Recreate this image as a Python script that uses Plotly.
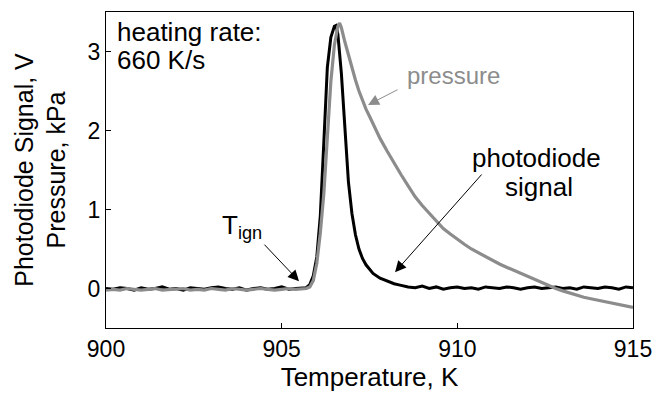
import plotly.graph_objects as go

# ---------------- data ----------------
pd_temp = [900.0, 900.2, 900.4, 900.6, 900.8, 901.0, 901.2, 901.4, 901.6, 901.8,
           902.0, 902.2, 902.4, 902.6, 902.8, 903.0, 903.2, 903.4, 903.6, 903.8,
           904.0, 904.2, 904.4, 904.6, 904.8, 905.0, 905.2, 905.4, 905.6,
           905.7, 905.8, 905.9, 906.0, 906.1, 906.2, 906.3, 906.4, 906.5, 906.55,
           906.6, 906.7, 906.8, 906.9, 907.0, 907.1, 907.2, 907.3, 907.4, 907.5,
           907.6, 907.8, 908.0, 908.2, 908.4, 908.6,
           908.8, 909.0, 909.2, 909.4, 909.6, 909.8, 910.0, 910.2, 910.4, 910.6,
           910.8, 911.0, 911.2, 911.4, 911.6, 911.8, 912.0, 912.2, 912.4, 912.6,
           912.8, 913.0, 913.2, 913.4, 913.6, 913.8, 914.0, 914.2, 914.4, 914.6,
           914.8, 915.0]
pd_signal = [0.00, -0.01, 0.01, 0.00, -0.02, 0.01, -0.01, 0.00, 0.02, -0.01,
             0.00, -0.02, 0.01, 0.00, -0.01, 0.01, 0.02, 0.00, -0.01, 0.01,
             -0.02, 0.00, 0.01, -0.01, 0.00, 0.02, -0.01, 0.00, 0.01,
             0.01, 0.05, 0.16, 0.40, 0.92, 1.85, 2.80, 3.18, 3.32, 3.33,
             3.22, 2.72, 2.00, 1.35, 0.95, 0.68, 0.50, 0.38, 0.30, 0.24,
             0.19, 0.13, 0.09, 0.06, 0.04, 0.02,
             0.01, 0.03, 0.00, 0.02, -0.01, 0.01, 0.02, 0.00, 0.01, -0.01,
             0.02, 0.01, 0.00, 0.02, 0.01, -0.01, 0.01, 0.02, 0.00, 0.01,
             0.02, 0.00, 0.01, -0.01, 0.02, 0.01, 0.00, 0.02, 0.01, -0.01,
             0.02, 0.01]

pr_temp = [900.0, 900.2, 900.4, 900.6, 900.8, 901.0, 901.2, 901.4, 901.6, 901.8,
           902.0, 902.2, 902.4, 902.6, 902.8, 903.0, 903.2, 903.4, 903.6, 903.8,
           904.0, 904.2, 904.4, 904.6, 904.8, 905.0, 905.2, 905.4, 905.6,
           905.7, 905.8, 905.9, 906.0, 906.1, 906.2, 906.3, 906.4, 906.5, 906.6,
           906.65, 906.7, 906.8, 906.9, 907.0, 907.1, 907.2, 907.3, 907.4, 907.5,
           907.6, 907.8, 908.0, 908.2, 908.4, 908.6, 908.8, 909.0, 909.2, 909.4,
           909.6, 909.8, 910.0, 910.2, 910.4, 910.6, 910.8, 911.0, 911.2, 911.4,
           911.6, 911.8, 912.0, 912.2, 912.4, 912.6, 912.8, 913.0, 913.2, 913.4,
           913.6, 913.8, 914.0, 914.2, 914.4, 914.6, 914.8, 915.0]
pr_pressure = [-0.02, -0.01, -0.02, 0.00, -0.01, -0.02, -0.01, 0.00, -0.02, -0.01,
               -0.01, 0.00, -0.02, -0.01, -0.02, 0.00, -0.01, -0.02, 0.00, -0.01,
               -0.02, -0.01, 0.00, -0.01, -0.02, -0.01, 0.00, -0.01, -0.01,
               0.00, 0.02, 0.10, 0.32, 0.70, 1.20, 1.90, 2.62, 3.08, 3.32,
               3.36, 3.30, 3.12, 2.95, 2.80, 2.64, 2.50, 2.38, 2.27, 2.18,
               2.08, 1.90, 1.74, 1.58, 1.44, 1.30, 1.16, 1.05, 0.95, 0.85,
               0.76, 0.69, 0.62, 0.56, 0.50, 0.45, 0.40, 0.35, 0.31, 0.27,
               0.23, 0.19, 0.15, 0.11, 0.07, 0.03, 0.00, -0.03, -0.06, -0.08,
               -0.11, -0.13, -0.15, -0.17, -0.19, -0.21, -0.23, -0.24]

x_ticks = [900, 905, 910, 915]
y_ticks = [0, 1, 2, 3]

FONT = "Arial, Liberation Sans, sans-serif"
GRAY = "#8c8c8c"

fig = go.Figure()
fig.add_trace(go.Scatter(x=pd_temp, y=pd_signal, mode="lines",
                         line=dict(color="black", width=3), showlegend=False))
fig.add_trace(go.Scatter(x=pr_temp, y=pr_pressure, mode="lines",
                         line=dict(color=GRAY, width=3.2), showlegend=False))

ann = []
def text(t, x, y, color="black", size=26, xanchor="center"):
    ann.append(dict(text=t, x=x, y=y, xref="x", yref="y", showarrow=False,
                    xanchor=xanchor, yanchor="middle",
                    font=dict(family=FONT, size=size, color=color)))

def arrow(x, y, ax, ay, color="black"):
    ann.append(dict(text="", x=x, y=y, ax=ax, ay=ay, xref="x", yref="y",
                    axref="x", ayref="y", showarrow=True, arrowhead=2,
                    arrowsize=2.2, arrowwidth=1, arrowcolor=color,
                    standoff=0, startstandoff=0))

text("heating rate:", 900.26, 3.25, xanchor="left")
text("660 K/s", 900.26, 2.89, xanchor="left")
text("pressure", 909.9, 2.70, color=GRAY, size=24)
text("photodiode", 912.24, 1.65)
text("signal", 912.33, 1.29)
text("T<sub>ign</sub>", 903.87, 0.78)
arrow(907.458, 2.324, 908.34, 2.526, color=GRAY)
arrow(908.227, 0.207, 910.73, 1.462)
arrow(905.494, 0.093, 904.469, 0.574)

axis_common = dict(showline=True, linecolor="black", linewidth=1, mirror=True,
                   ticks="inside", ticklen=5, tickcolor="black", showgrid=False,
                   zeroline=False, automargin=False,
                   tickfont=dict(family=FONT, size=23, color="black"))

fig.update_layout(
    width=656, height=393,
    margin=dict(l=106, r=23, t=12, b=65),
    paper_bgcolor="white", plot_bgcolor="white",
    font=dict(family=FONT, color="black"),
    annotations=ann,
    xaxis=dict(range=[900, 915], tickvals=x_ticks, ticktext=[str(v) for v in x_ticks],
               title=dict(text="Temperature, K", font=dict(family=FONT, size=26), standoff=5),
               **axis_common),
    yaxis=dict(range=[-0.5, 3.5], tickvals=y_ticks, ticktext=[str(v) for v in y_ticks],
               title=dict(text="Photodiode Signal, V<br>Pressure, kPa",
                          font=dict(family=FONT, size=25), standoff=14),
               **axis_common),
)

fig.write_html("out.html")
